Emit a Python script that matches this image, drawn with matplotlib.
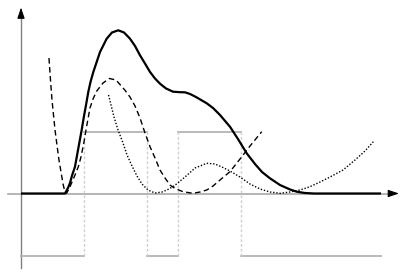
import matplotlib.pyplot as plt
import numpy as np

# ----- data (x in half-periods of the square wave, y in wave amplitudes) -----
wave_x = [0, 1, 1, 2, 2, 2.5, 2.5, 3.5, 3.5, 5.71]
wave_y = [-1, -1, 1, 1, -1, -1, 1, 1, -1, -1]
edges_x = [1, 2, 2.5, 3.5]

solid_x = [0, 0.698, 0.746, 0.778, 0.81, 0.857, 0.905, 0.963, 1.0, 1.032, 1.068,
           1.103, 1.148, 1.254, 1.36, 1.444, 1.544, 1.635, 1.73, 1.81, 1.889,
           1.968, 2.048, 2.127, 2.206, 2.302, 2.413, 2.524, 2.603, 2.683, 2.778,
           2.948, 3.048, 3.159, 3.317, 3.444, 3.583, 3.714, 3.825, 3.952, 4.111,
           4.27, 4.376, 4.508, 4.651, 5.714]
solid_y = [0, 0, 0.09, 0.17, 0.29, 0.432, 0.702, 1.024, 1.25, 1.427, 1.637,
           1.798, 1.96, 2.282, 2.497, 2.597, 2.632, 2.597, 2.497, 2.379, 2.229,
           2.097, 1.96, 1.855, 1.771, 1.694, 1.642, 1.634, 1.632, 1.605, 1.556,
           1.455, 1.379, 1.266, 1.077, 0.879, 0.648, 0.476, 0.347, 0.245, 0.137,
           0.065, 0.029, 0.008, 0, 0]

dashed_x = [0.444, 0.468, 0.492, 0.516, 0.54, 0.571, 0.603, 0.635, 0.667, 0.698,
            0.722, 0.762, 0.81, 0.857, 0.91, 0.952, 1.0, 1.043, 1.095, 1.143,
            1.202, 1.302, 1.402, 1.508, 1.651, 1.73, 1.81, 1.889, 1.968, 2.048,
            2.127, 2.206, 2.286, 2.365, 2.444, 2.571, 2.73, 2.841, 2.948, 3.048,
            3.159, 3.317, 3.476, 3.635, 3.821]
dashed_y = [2.185, 1.831, 1.508, 1.266, 1.024, 0.782, 0.54, 0.347, 0.153, 0.024,
            0.003, 0.073, 0.185, 0.298, 0.432, 0.589, 0.831, 1.089, 1.379, 1.524,
            1.653, 1.782, 1.855, 1.831, 1.665, 1.556, 1.411, 1.218, 0.976, 0.755,
            0.573, 0.379, 0.25, 0.137, 0.081, 0.029, 0.003, 0.024, 0.056, 0.121,
            0.218, 0.352, 0.556, 0.766, 0.997]

dotted_x = [1.389, 1.429, 1.476, 1.54, 1.619, 1.683, 1.762, 1.841, 1.921, 2.016,
            2.127, 2.238, 2.333, 2.429, 2.603, 2.762, 2.948, 3.079, 3.19, 3.317,
            3.476, 3.635, 3.794, 3.952, 4.111, 4.27, 4.429, 4.587, 4.746, 4.905,
            5.111, 5.302, 5.46, 5.592]
dotted_y = [1.589, 1.427, 1.234, 1.024, 0.815, 0.621, 0.444, 0.282, 0.153, 0.056,
            0.008, 0.024, 0.065, 0.121, 0.266, 0.411, 0.487, 0.476, 0.427, 0.363,
            0.266, 0.153, 0.073, 0.024, 0.003, 0.024, 0.056, 0.11, 0.185, 0.266,
            0.379, 0.54, 0.685, 0.835]

fig = plt.figure(figsize=(4.09, 2.77), dpi=100)
ax = fig.add_axes([0, 0, 1, 1])
ax.set_xlim(-21 / 63, 388 / 63)
ax.set_ylim(-83.5 / 62, 193.5 / 62)
ax.axis('off')

# axes with arrow heads
ax.plot([-0.21, 5.86], [0, 0], color='#a8a8a8', lw=1.2, zorder=1)
ax.plot([0, 0], [-1.2, 2.86], color='#808080', lw=1.0, zorder=1)
head = dict(arrowstyle='-|>,head_length=0.65,head_width=0.22', color='black', lw=0.8,
            shrinkA=0, shrinkB=0)
ax.annotate('', xy=(6.0, 0), xytext=(5.85, 0), arrowprops=head)
ax.annotate('', xy=(0, 3.0), xytext=(0, 2.85), arrowprops=head)

# square wave: grey levels, dotted edges
for i in range(0, len(wave_x), 2):
    ax.plot(wave_x[i:i + 2], wave_y[i:i + 2], color='#b4b4b4', lw=1.3, zorder=1)
for x in edges_x:
    ax.plot([x, x], [-1, 1], color='#d0d0d0', lw=1.0, ls=(0, (2, 1.5)), zorder=1)

ax.plot(dotted_x, dotted_y, color='black', lw=1.0, ls=(0, (1, 1.3)), zorder=2)
ax.plot(dashed_x, dashed_y, color='black', lw=1.0, ls=(0, (4, 2.5)), zorder=2)
ax.plot(solid_x, solid_y, color='black', lw=1.6, zorder=3, solid_capstyle='butt')

fig.savefig('out.png', dpi=100)
